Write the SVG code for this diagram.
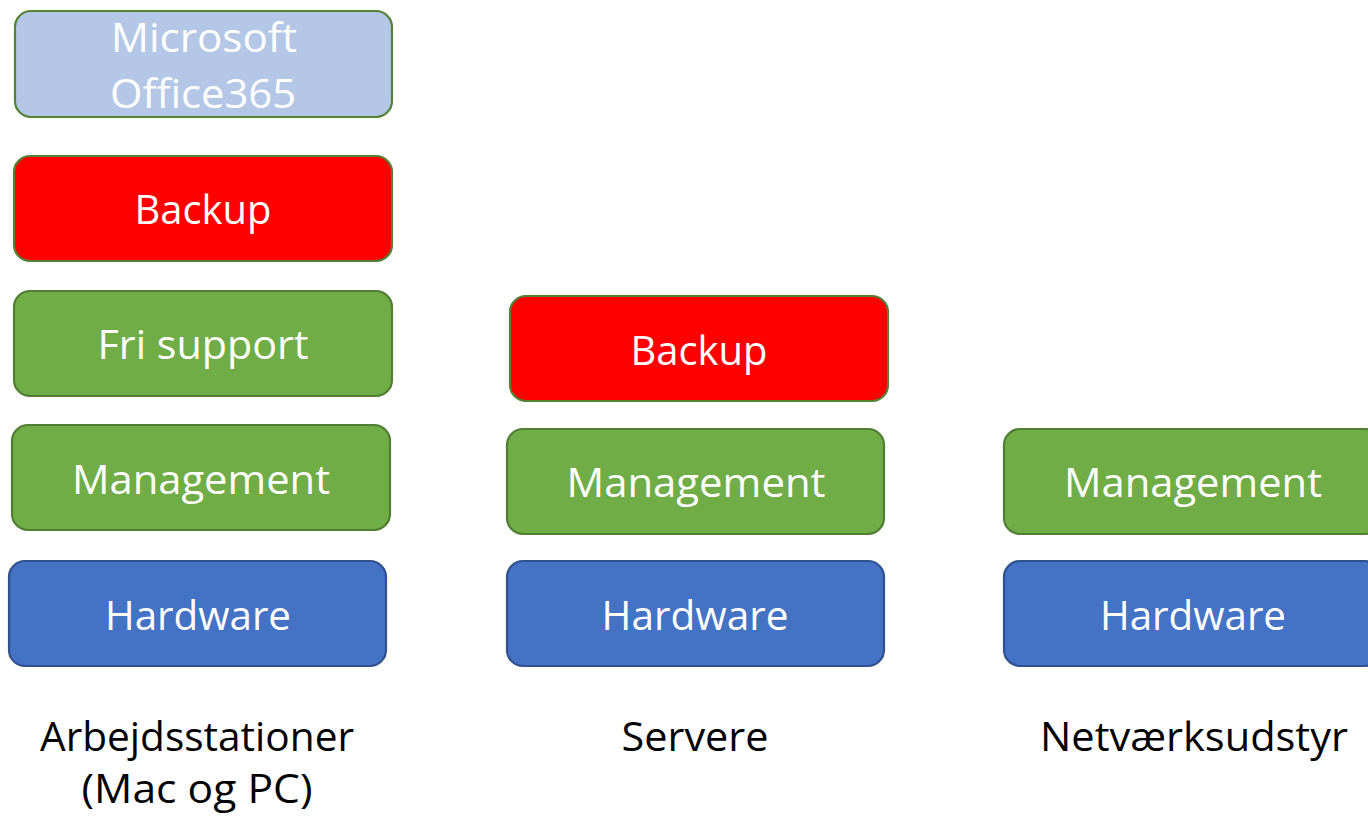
<svg xmlns="http://www.w3.org/2000/svg" width="1368" height="816" viewBox="0 0 1368 816">
<style>
.box{stroke-width:2.2}
.office{fill:#B4C7E7;stroke:#538135}
.red{fill:#FF0000;stroke:#538135}
.green{fill:#70AD47;stroke:#507E32}
.blue{fill:#4472C4;stroke:#2F528F}
.t{font-family:"Open Sans","Noto Sans","Liberation Sans",sans-serif;font-size:40px;fill:#FFFFFF;text-anchor:middle}
.lbl{font-family:"Open Sans","Noto Sans","Liberation Sans",sans-serif;font-size:40px;fill:#000000;text-anchor:middle}
</style>
<rect width="1368" height="816" fill="#FFFFFF"/>
<g id="col1-office">
<rect class="box office" x="15" y="11" width="377" height="106" rx="16"/>
<text class="t" x="204" y="52" textLength="186" lengthAdjust="spacingAndGlyphs">Microsoft</text>
<text class="t" x="203" y="108" textLength="186" lengthAdjust="spacingAndGlyphs">Office365</text>
</g>
<g id="col1-backup">
<rect class="box red" x="14" y="156" width="378" height="105" rx="16"/>
<text class="t" x="203" y="224" textLength="137" lengthAdjust="spacingAndGlyphs">Backup</text>
</g>
<g id="col1-frisupport">
<rect class="box green" x="14" y="291" width="378" height="105" rx="16"/>
<text class="t" x="203" y="359" textLength="211" lengthAdjust="spacingAndGlyphs">Fri support</text>
</g>
<g id="col1-management">
<rect class="box green" x="12" y="425" width="378" height="105" rx="16"/>
<text class="t" x="201" y="494" textLength="258" lengthAdjust="spacingAndGlyphs">Management</text>
</g>
<g id="col1-hardware">
<rect class="box blue" x="9" y="561" width="377" height="105" rx="16"/>
<text class="t" x="198" y="630" textLength="186" lengthAdjust="spacingAndGlyphs">Hardware</text>
</g>
<g id="col2-backup">
<rect class="box red" x="510" y="296" width="378" height="105" rx="16"/>
<text class="t" x="699" y="365" textLength="137" lengthAdjust="spacingAndGlyphs">Backup</text>
</g>
<g id="col2-management">
<rect class="box green" x="507" y="429" width="377" height="105" rx="16"/>
<text class="t" x="696" y="497" textLength="259" lengthAdjust="spacingAndGlyphs">Management</text>
</g>
<g id="col2-hardware">
<rect class="box blue" x="507" y="561" width="377" height="105" rx="16"/>
<text class="t" x="695" y="630" textLength="187" lengthAdjust="spacingAndGlyphs">Hardware</text>
</g>
<g id="col3-management">
<rect class="box green" x="1004" y="429" width="377" height="105" rx="16"/>
<text class="t" x="1193" y="497" textLength="258" lengthAdjust="spacingAndGlyphs">Management</text>
</g>
<g id="col3-hardware">
<rect class="box blue" x="1004" y="561" width="377" height="105" rx="16"/>
<text class="t" x="1193" y="630" textLength="186" lengthAdjust="spacingAndGlyphs">Hardware</text>
</g>
<g id="labels">
<text class="lbl" x="197" y="751" textLength="314" lengthAdjust="spacingAndGlyphs">Arbejdsstationer</text>
<text class="lbl" x="197" y="803" textLength="231" lengthAdjust="spacingAndGlyphs">(Mac og PC)</text>
<text class="lbl" x="695" y="751" textLength="147" lengthAdjust="spacingAndGlyphs">Servere</text>
<text class="lbl" x="1194" y="751" textLength="308" lengthAdjust="spacingAndGlyphs">Netværksudstyr</text>
</g>
<g id="connectors"></g>
</svg>
